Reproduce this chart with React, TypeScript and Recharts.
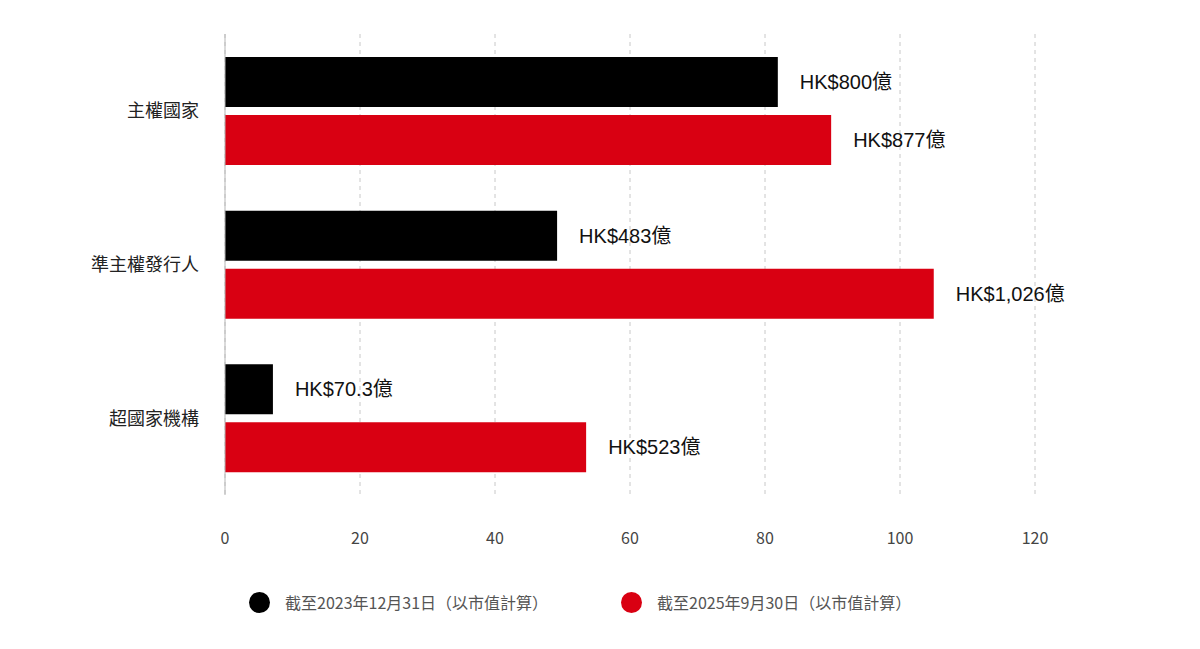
import { BarChart, Bar, XAxis, YAxis, CartesianGrid, LabelList, Legend } from 'recharts';

const categories = ['主權國家', '準主權發行人', '超國家機構'];
const values2023 = [81.9, 49.2, 7.1];
const values2025 = [89.8, 105, 53.5];
const labels2023 = ['HK$800億', 'HK$483億', 'HK$70.3億'];
const labels2025 = ['HK$877億', 'HK$1,026億', 'HK$523億'];
const xTicks = [0, 20, 40, 60, 80, 100, 120];
const seriesNames = ['截至2023年12月31日（以市值計算）', '截至2025年9月30日（以市值計算）'];

const BLACK = '#000000';
const RED = '#d90012';
const FONT = '"Noto Sans CJK TC", "Noto Sans", sans-serif';
const LABEL_FONT = '"Liberation Sans", "Noto Sans CJK TC", sans-serif';

const data = categories.map((name, i) => ({
  name,
  v2023: values2023[i],
  v2025: values2025[i],
  l2023: labels2023[i],
  l2025: labels2025[i],
}));

function LegendContent() {
  const colors = [BLACK, RED];
  return (
    <div style={{ position: 'relative', height: 30, fontFamily: FONT }}>
      {seriesNames.map((s, i) => (
        <div
          key={s}
          style={{
            position: 'absolute',
            left: i === 0 ? 249 : 621,
            top: 0,
            display: 'flex',
            alignItems: 'center',
            whiteSpace: 'nowrap',
          }}
        >
          <span style={{ width: 21, height: 21, borderRadius: '50%', background: colors[i], display: 'inline-block' }} />
          <span style={{ marginLeft: 15, fontSize: 16, color: '#555' }}>{s}</span>
        </div>
      ))}
    </div>
  );
}

export default function App() {
  return (
    <div style={{ position: 'absolute', left: 0, top: 0, width: 1200, height: 649, background: '#fff' }}>
      <BarChart
        width={1200}
        height={649}
        data={data}
        layout="vertical"
        margin={{ top: 34, right: 165, bottom: 64, left: 0 }}
        barSize={50}
        barGap={8}
        barCategoryGap={23}
        style={{ fontFamily: FONT }}
      >
        <CartesianGrid horizontal={false} vertical stroke="#c8c8c8" strokeDasharray="4 4" />
        <XAxis
          type="number"
          domain={[0, 120]}
          ticks={xTicks}
          axisLine={false}
          tickLine={false}
          height={60}
          tickMargin={32}
          tick={{ fontSize: 16, fill: '#444', fontFamily: FONT }}
        />
        <YAxis
          type="category"
          dataKey="name"
          width={225}
          axisLine={{ stroke: '#b5b5b5' }}
          tickLine={false}
          tickMargin={20}
          tick={{ fontSize: 18, fill: '#222', fontFamily: FONT }}
        />
        <Legend
          verticalAlign="bottom"
          content={<LegendContent />}
          wrapperStyle={{ left: 0, width: 1200, top: 590 }}
        />
        <Bar dataKey="v2023" fill={BLACK} isAnimationActive={false}>
          <LabelList dataKey="l2023" position="right" offset={22} fill="#111" fontSize={20} fontFamily={LABEL_FONT} />
        </Bar>
        <Bar dataKey="v2025" fill={RED} isAnimationActive={false}>
          <LabelList dataKey="l2025" position="right" offset={22} fill="#111" fontSize={20} fontFamily={LABEL_FONT} />
        </Bar>
      </BarChart>
    </div>
  );
}
